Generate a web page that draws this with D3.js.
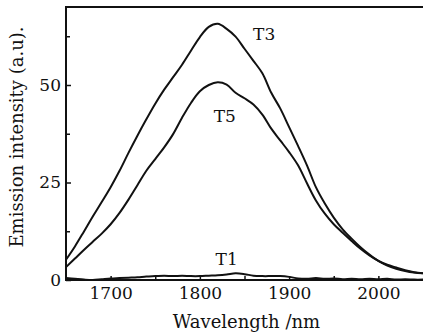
<!DOCTYPE html>
<html>
<head>
<meta charset="utf-8">
<script src="https://cdn.jsdelivr.net/npm/d3@7"></script>
<style>
  body { margin: 0; background: #fff; }
</style>
</head>
<body>
<div id="chart"></div>
<script>
// wavelength grid (nm) shared by all three spectra
var wavelength = [1650, 1660, 1670, 1680, 1690, 1700, 1710, 1720, 1730, 1740,
                  1750, 1760, 1770, 1780, 1790, 1800, 1810, 1820, 1830, 1840,
                  1850, 1860, 1870, 1880, 1890, 1900, 1910, 1920, 1930, 1940,
                  1950, 1960, 1970, 1980, 1990, 2000, 2010, 2020, 2030, 2040, 2050];

var t3 = [5.2, 8.6, 12.4, 16.3, 20.0, 23.8, 28.0, 32.6, 37.0, 41.2,
          45.2, 48.8, 52.0, 55.2, 58.8, 62.3, 64.9, 65.7, 64.4, 62.4,
          59.3, 56.2, 53.0, 48.0, 44.0, 39.2, 34.4, 29.4, 23.8, 19.6,
          16.0, 13.0, 10.6, 8.4, 6.5, 4.9, 3.9, 3.2, 2.5, 2.0, 1.7];

var t5 = [3.3, 5.5, 7.7, 9.8, 11.9, 14.3, 17.2, 20.6, 24.3, 28.0,
          31.0, 34.0, 37.4, 41.6, 45.4, 48.4, 50.0, 50.7, 50.1, 48.0,
          46.6, 45.0, 42.4, 38.8, 35.8, 32.8, 29.4, 24.8, 20.4, 17.0,
          14.3, 12.1, 10.0, 8.0, 6.3, 4.9, 3.7, 2.9, 2.3, 1.9, 1.7];

var t1 = [0.5, 0.3, 0.1, 0.0, 0.2, 0.4, 0.5, 0.6, 0.7, 0.9,
          1.0, 1.1, 1.0, 1.1, 1.0, 1.0, 1.1, 1.2, 1.4, 1.7,
          1.5, 1.1, 1.0, 1.0, 1.0, 0.8, 0.4, 0.3, 0.5, 0.3,
          0.4, 0.2, 0.3, 0.2, 0.3, 0.2, 0.3, 0.1, 0.2, 0.1, 0.1];

var xTicks = [1700, 1800, 1900, 2000];
var xMinor = [1750, 1850, 1950];
var yTicks = [0, 25, 50];
var yMinor = [12.5, 37.5, 62.5];

// series labels placed next to the curves (data coords)
var seriesNames = ["T3", "T5", "T1"];
var seriesData = [t3, t5, t1];
var labelPos = [[1872, 63], [1828, 42], [1830, 5.5]];

var W = 423, H = 334;
var margin = {top: 7, right: 0, bottom: 54, left: 66};
var serif = "DejaVu Serif";

var svg = d3.select("#chart").append("svg")
  .attr("width", W)
  .attr("height", H)
  .attr("font-family", serif);

var x = d3.scaleLinear().domain([1650, 2050]).range([margin.left, W - margin.right]);
var y = d3.scaleLinear().domain([0, 70]).range([H - margin.bottom, margin.top]);

// frame: left, top, bottom
svg.append("path")
  .attr("d", "M" + (W + 2) + "," + y(70) + "H" + x(1650) + "V" + y(0) + "H" + (W + 2))
  .attr("fill", "none")
  .attr("stroke", "#111")
  .attr("stroke-width", 2);

// x axis, ticks point inward
svg.append("g")
  .attr("transform", "translate(0," + y(0) + ")")
  .call(d3.axisBottom(x).tickValues(xTicks).tickFormat(d3.format("d"))
    .tickSizeInner(-4).tickSizeOuter(0).tickPadding(7));
svg.append("g")
  .attr("transform", "translate(0," + y(0) + ")")
  .call(d3.axisBottom(x).tickValues(xMinor).tickSizeInner(-4).tickSizeOuter(0).tickFormat(""));

svg.append("g")
  .attr("transform", "translate(" + x(1650) + ",0)")
  .call(d3.axisLeft(y).tickValues(yTicks).tickSizeInner(-5).tickSizeOuter(0).tickPadding(5));
svg.append("g")
  .attr("transform", "translate(" + x(1650) + ",0)")
  .call(d3.axisLeft(y).tickValues(yMinor).tickSizeInner(-4).tickSizeOuter(0).tickFormat(""));

svg.selectAll(".domain").remove();
svg.selectAll("g").attr("font-family", serif);
svg.selectAll(".tick line").attr("stroke", "#111").attr("stroke-width", 1.5);
svg.selectAll(".tick text")
  .attr("font-family", serif)
  .attr("font-size", 17)
  .attr("fill", "#111");

// spectra
var line = d3.line()
  .x(function(d, i) { return x(wavelength[i]); })
  .y(function(d) { return y(d); })
  .curve(d3.curveCatmullRom);

svg.append("g").selectAll("path")
  .data(seriesData)
  .enter()
  .append("path")
  .attr("d", line)
  .attr("fill", "none")
  .attr("stroke", "#111")
  .attr("stroke-width", 2);

svg.append("g").selectAll("text")
  .data(seriesNames)
  .enter()
  .append("text")
  .attr("x", function(d, i) { return x(labelPos[i][0]); })
  .attr("y", function(d, i) { return y(labelPos[i][1]); })
  .attr("dy", "0.35em")
  .attr("text-anchor", "middle")
  .attr("fill", "#111")
  .attr("font-size", 17)
  .text(function(d) { return d; });

// axis titles
svg.append("text")
  .attr("x", (x(1650) + W) / 2 + 2)
  .attr("y", 328)
  .attr("text-anchor", "middle")
  .attr("fill", "#111")
  .attr("font-size", 18)
  .text("Wavelength /nm");

svg.append("text")
  .attr("transform", "translate(23," + 137 + ") rotate(-90)")
  .attr("text-anchor", "middle")
  .attr("fill", "#111")
  .attr("font-size", 18)
  .text("Emission intensity (a.u).");
</script>
</body>
</html>
